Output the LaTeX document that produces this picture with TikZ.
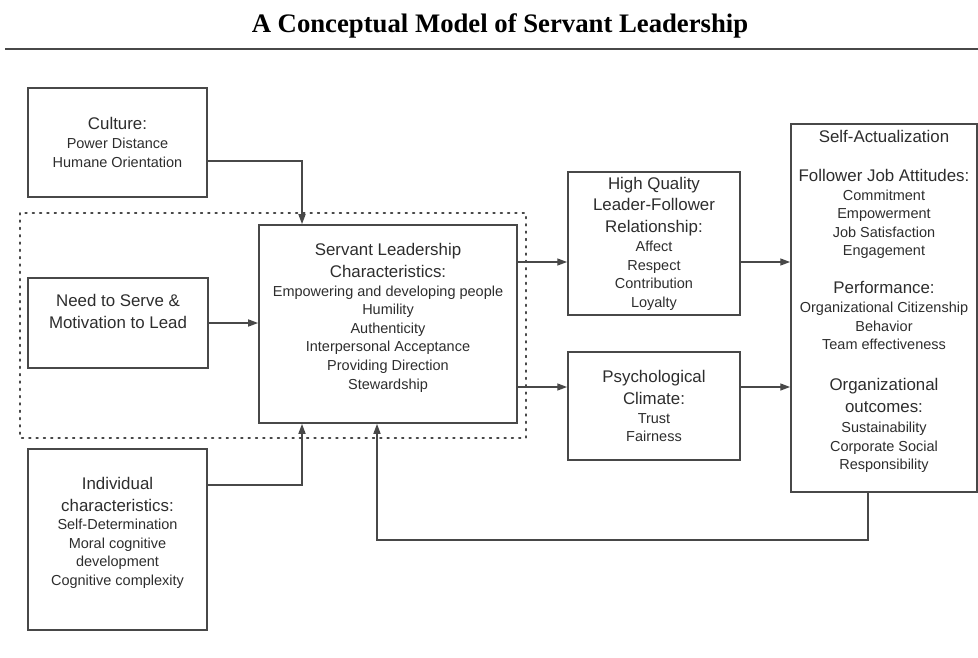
\documentclass[tikz,border=0pt]{standalone}
\usepackage{fontspec}
\setmainfont{Liberation Sans}
\newfontfamily\titlefont{Liberation Serif}
\usetikzlibrary{arrows.meta}

\definecolor{linegray}{RGB}{72,72,72}
\definecolor{txtgray}{RGB}{45,45,45}

% heading lines inside the boxes
\newcommand{\hd}[1]{{\fontsize{12}{15.6}\selectfont #1}}

\tikzset{
  box/.style={draw=linegray, line width=1.3pt, rectangle, inner sep=0pt,
    align=center, text=txtgray, font=\fontsize{10.3}{13.2}\selectfont},
  boxsize/.style 2 args={minimum width=#1*0.025cm, minimum height=#2*0.025cm},
  arr/.style={draw=linegray, line width=1pt, -{Triangle[length=7pt,width=5pt]}},
}

\begin{document}
\begin{tikzpicture}[x=0.025cm, y=-0.025cm]
\useasboundingbox (0,0) rectangle (978,657);

% title and rule
\node[font=\titlefont\bfseries\fontsize{19}{22}\selectfont, anchor=base] (title) at (500,33)
  {A Conceptual Model of Servant Leadership};
\draw[linegray, line width=1.4pt] (5,49) -- (978,49);

% antecedents
\node[box, boxsize={179}{109}] (cult) at (117.5,142.5)
  {\hd{Culture:}\\ Power Distance\\ Humane Orientation};
\node[box, boxsize={180}{90}] (need) at (118,323)
  {\hd{Need to Serve \&}\\[2.4pt] \hd{Motivation to Lead}\\[3pt]};
\node[box, boxsize={179}{181}] (indiv) at (117.5,539.5)
  {\hd{Individual}\\[2.4pt] \hd{characteristics:}\\ Self-Determination\\ Moral cognitive\\
   development\\ Cognitive complexity\\[-1.5pt]};

% servant leadership block
\draw[linegray, line width=1.2pt, dash pattern=on 1.2pt off 4pt, line cap=round]
  (20,213) rectangle (526,438);
\node[box, boxsize={258}{198}] (slc) at (388,324)
  {\hd{Servant Leadership}\\[2.4pt] \hd{Characteristics:}\\ Empowering and developing people\\
   Humility\\ Authenticity\\ Interpersonal Acceptance\\ Providing Direction\\ Stewardship\\[-2.2pt]};

% mediators
\node[box, boxsize={172}{143}] (hq) at (654,243.5)
  {\hd{High Quality}\\[2.4pt] \hd{Leader-Follower}\\[2.4pt] \hd{Relationship:}\\
   Affect\\ Respect\\ Contribution\\ Loyalty};
\node[box, boxsize={172}{108}] (pc) at (654,406)
  {\hd{Psychological}\\[2.4pt] \hd{Climate:}\\ Trust\\ Fairness};

% outcomes
\node[box, boxsize={186}{368}] (sa) at (884,308)
  {\hd{Self-Actualization}\\[15pt]
   \hd{Follower Job Attitudes:}\\ Commitment\\ Empowerment\\ Job Satisfaction\\ Engagement\\[13.8pt]
   \hd{Performance:}\\ Organizational Citizenship\\ Behavior\\ Team effectiveness\\[16pt]
   \hd{Organizational}\\[2.4pt] \hd{outcomes:}\\[1pt] Sustainability\\ Corporate Social\\ Responsibility\\[-1.5pt]};

% connectors
\draw[arr] (cult.east |- 0,161) -| (slc.north -| 302,0);
\draw[arr] (need.east) -- (need.east -| slc.west);
\draw[arr] (indiv.east |- 0,485) -| (slc.south -| 302,0);
\draw[arr] (slc.east |- 0,262) -- (hq.west |- 0,262);
\draw[arr] (slc.east |- 0,387) -- (pc.west |- 0,387);
\draw[arr] (hq.east |- 0,262) -- (sa.west |- 0,262);
\draw[arr] (pc.east |- 0,387) -- (sa.west |- 0,387);
\draw[arr] (sa.south -| 868,0) -- ++(0,47) -| (slc.south -| 377,0);
\end{tikzpicture}
\end{document}
